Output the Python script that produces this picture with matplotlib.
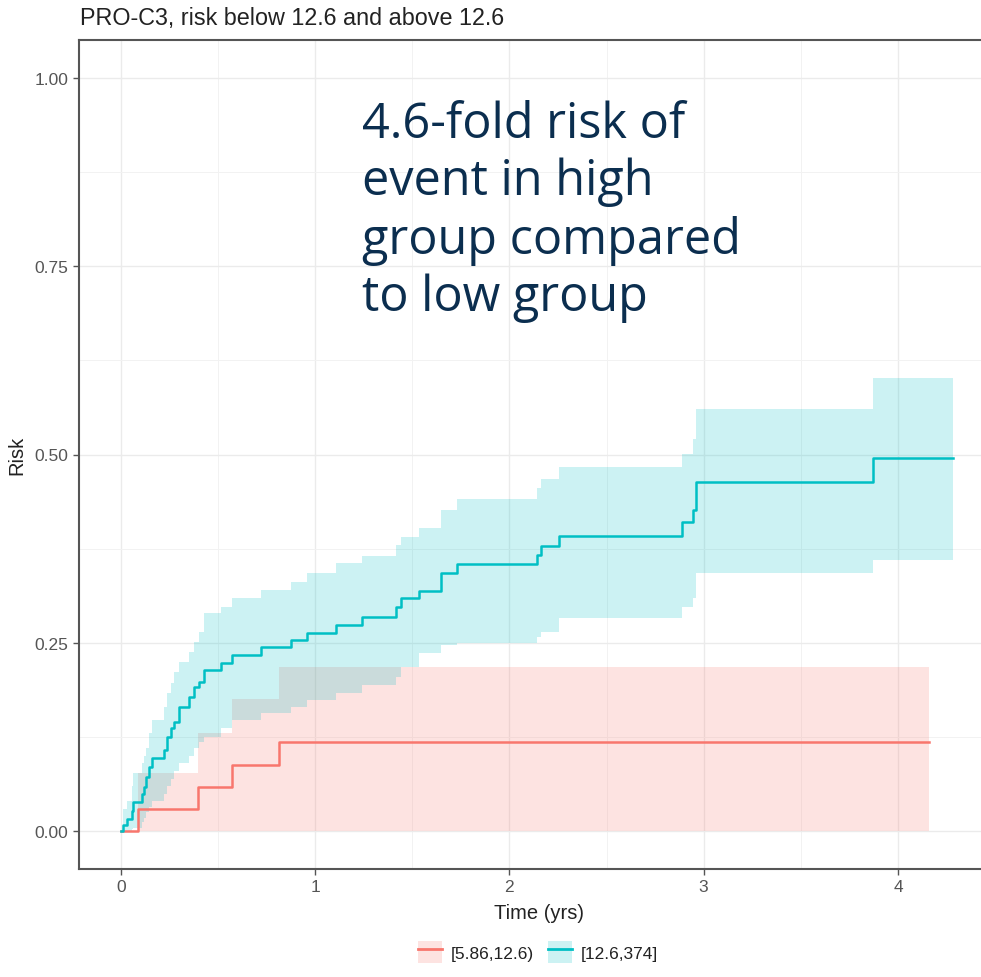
import numpy as np
import matplotlib
matplotlib.use("Agg")
import matplotlib.pyplot as plt
from matplotlib.patches import Patch
from matplotlib.lines import Line2D

plt.rcParams['font.family'] = ['Liberation Sans', 'DejaVu Sans']

# low group [5.86,12.6)
low_time = [0.0, 0.09, 0.40, 0.574, 0.814]
low_risk = [0.0, 0.029, 0.059, 0.088, 0.118]
low_upper = [0.0, 0.078, 0.130, 0.175, 0.218]
low_lower = [0.0, 0.0, 0.0, 0.0, 0.0]
low_end = 4.16

# high group [12.6,374]
high_time = [0.0, 0.010, 0.031, 0.057, 0.062, 0.108, 0.119, 0.129, 0.144, 0.160,
             0.222, 0.237, 0.258, 0.273, 0.299, 0.351, 0.376, 0.402, 0.428, 0.515,
             0.572, 0.722, 0.876, 0.959, 1.108, 1.242, 1.418, 1.443, 1.536, 1.649,
             1.732, 2.144, 2.165, 2.258, 2.887, 2.943, 2.959, 3.871]
high_risk = [0.0, 0.008, 0.017, 0.027, 0.039, 0.050, 0.059, 0.072, 0.085, 0.097,
             0.108, 0.125, 0.137, 0.145, 0.165, 0.178, 0.192, 0.198, 0.214, 0.223,
             0.234, 0.245, 0.254, 0.263, 0.274, 0.285, 0.297, 0.310, 0.319, 0.343,
             0.355, 0.367, 0.378, 0.392, 0.410, 0.427, 0.463, 0.495]
high_upper = [0.0, 0.030, 0.040, 0.060, 0.077, 0.090, 0.100, 0.110, 0.130, 0.148,
              0.165, 0.183, 0.197, 0.212, 0.225, 0.238, 0.251, 0.265, 0.290, 0.298,
              0.310, 0.320, 0.331, 0.343, 0.356, 0.365, 0.380, 0.390, 0.403, 0.427,
              0.441, 0.455, 0.467, 0.484, 0.501, 0.520, 0.560, 0.602]
high_lower = [0.0, 0.0, 0.0, 0.003, 0.005, 0.012, 0.018, 0.025, 0.032, 0.040,
              0.050, 0.060, 0.070, 0.080, 0.090, 0.100, 0.110, 0.118, 0.125, 0.137,
              0.148, 0.157, 0.165, 0.174, 0.183, 0.194, 0.205, 0.218, 0.236, 0.247,
              0.250, 0.258, 0.265, 0.283, 0.298, 0.310, 0.343, 0.360]
high_end = 4.284

group_labels = ['[5.86,12.6)', '[12.6,374]']
group_colors = ['#F8766D', '#00BFC4']

title = 'PRO-C3, risk below 12.6 and above 12.6'
note = '4.6-fold risk of\nevent in high\ngroup compared\nto low group'

W, H = 981, 978
fig = plt.figure(figsize=(W / 100, H / 100), dpi=100)
ax = fig.add_axes([79 / W, (H - 870) / H, (998 - 79) / W, (870 - 41) / H])

groups = [
    (low_time, low_risk, low_lower, low_upper, low_end),
    (high_time, high_risk, high_lower, high_upper, high_end),
]
for (t, r, lo, up, end), col in zip(groups, group_colors):
    tt = np.append(t, end)
    ll = np.append(lo, lo[-1])
    uu = np.append(up, up[-1])
    ax.fill_between(tt, ll, uu, step='post', color=col, alpha=0.2, lw=0)
for (t, r, lo, up, end), col in zip(groups, group_colors):
    tt = np.append(t, end)
    rr = np.append(r, r[-1])
    ax.step(tt, rr, where='post', color=col, lw=1.8)

ax.set_xlim(-0.215, 4.515)
ax.set_ylim(-0.05, 1.05)
ax.set_xticks([0, 1, 2, 3, 4])
ax.set_xticks([0.5, 1.5, 2.5, 3.5], minor=True)
ax.set_yticks([0, 0.25, 0.5, 0.75, 1.0])
ax.set_yticks([0.125, 0.375, 0.625, 0.875], minor=True)
ax.set_yticklabels(['0.00', '0.25', '0.50', '0.75', '1.00'])
ax.grid(which='major', color='#EBEBEB', lw=1.0)
ax.grid(which='minor', color='#F2F2F2', lw=0.7)
ax.set_axisbelow(True)
ax.tick_params(which='major', length=4, width=1, color='#555555',
               labelsize=12.5, labelcolor='#555555')
ax.tick_params(which='minor', length=0)
for s in ax.spines.values():
    s.set_color('#555555')
    s.set_linewidth(1.5)

ax.set_xlabel('Time (yrs)', fontsize=14.5, color='#222222', labelpad=6)
ax.set_ylabel('Risk', fontsize=14.5, color='#222222', labelpad=6)

fig.text(80 / W, 1 - 18 / H, title, fontsize=16.8, color='#222222',
         ha='left', va='center')

fig.text(362 / W, 1 - 100 / H, note, fontsize=35, color='#0B2E4F',
         family=['Open Sans', 'DejaVu Sans'], ha='left', va='top',
         linespacing=1.22)

handles = []
for col in group_colors:
    handles.append((Patch(facecolor=col, alpha=0.2, edgecolor='none'),
                    Line2D([], [], color=col, lw=2)))
fig.legend(handles, group_labels, loc='center', ncol=2, frameon=False,
           bbox_to_anchor=(538 / W, 1 - 953 / H), fontsize=12.5,
           handlelength=1.4, handleheight=1.6, columnspacing=0.8,
           handletextpad=0.5, labelcolor='#222222')

fig.savefig('out.png', dpi=100)
